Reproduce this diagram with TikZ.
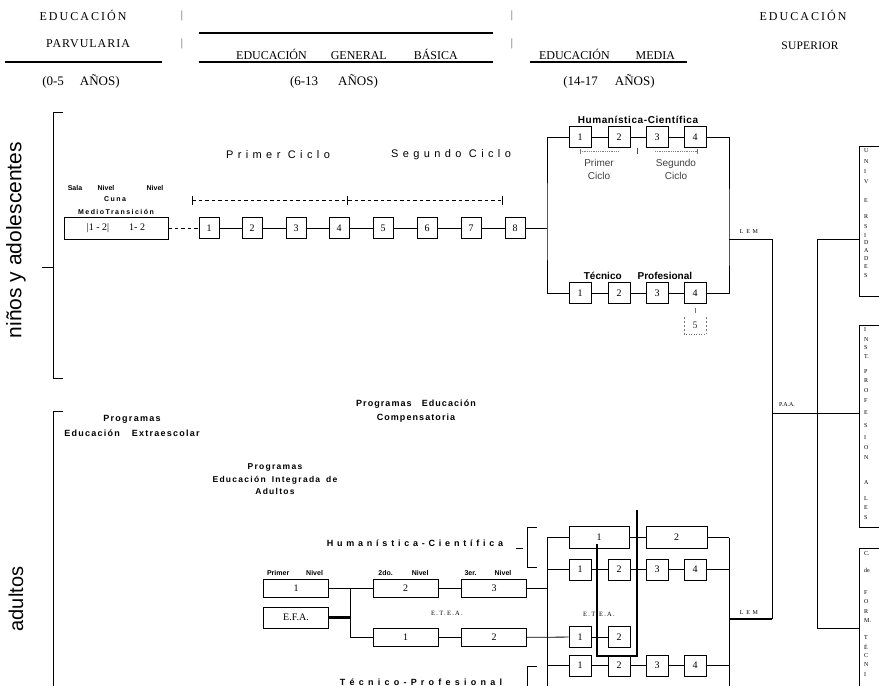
\documentclass[tikz,border=0pt]{standalone}
\usepackage{fontspec}
\setmainfont{Liberation Serif}
\setsansfont{Liberation Sans}
\newcommand\fsz[2]{\fontsize{#1}{#2}\selectfont}
\newcommand\lsp[1]{\addfontfeatures{LetterSpace=#1}}
\begin{document}
\begin{tikzpicture}[x=1pt,y=-1pt,
  ln/.style={line width=0.8pt},
  thk/.style={line width=2.3pt},
  hline/.style={line width=2pt},
  cbx/.style={draw,line width=0.8pt,minimum width=20pt,minimum height=21pt,inner sep=0pt,font={\fsz{10}{12}}},
  mbx/.style={cbx,minimum width=22pt},
  wbx/.style={cbx,minimum width=60pt,minimum height=22pt},
  abx/.style={cbx,minimum width=65pt,minimum height=18pt},
  lbl/.style={font={\sffamily\bfseries\fsz{7}{8}},inner sep=0pt},
  vl/.style={font={\fsz{6}{7}},inner sep=0pt,anchor=west},
  sml/.style={font={\fsz{6}{7}},inner sep=0pt},
  bar/.style={font={\fsz{11}{13}},text=black!70,inner sep=0pt},
  dsh/.style={line width=0.6pt,dash pattern=on 3.5pt off 3pt},
  gdt/.style={line width=0.4pt,black!50,dash pattern=on 1pt off 0.8pt},
  gln/.style={line width=0.4pt,black!55},
]
\useasboundingbox (0,0) rectangle (879,686);
% ---------------- header ----------------
\node[font={\fsz{12}{14}\lsp{17}}] (hEduA) at (83,15) {EDUCACIÓN};
\node[font={\fsz{12}{14}\lsp{8}}] (hParv) at (88,44) {PARVULARIA};
\node[font={\fsz{12}{14}\lsp{17}}] (hEduB) at (803,15) {EDUCACIÓN};
\node[font={\fsz{11.5}{14}\lsp{2}}] (hSup) at (810,46) {SUPERIOR};
\node[font={\fsz{12}{14}},inner sep=0pt] (hEGB) at (347,54) {EDUCACIÓN\hspace{24pt}GENERAL\hspace{27pt}BÁSICA};
\node[font={\fsz{12}{14}},inner sep=0pt] (hMed) at (607,54) {EDUCACIÓN\hspace{26pt}MEDIA};
\node[font={\fsz{13}{15}},inner sep=0pt] (aP) at (81,81) {(0-5\hspace{16pt}AÑOS)};
\node[font={\fsz{13}{15}},inner sep=0pt] (aB) at (334,81) {(6-13\hspace{20pt}AÑOS)};
\node[font={\fsz{13}{15}},inner sep=0pt] (aM) at (609,81) {(14-17\hspace{17pt}AÑOS)};
\node[bar] (bar1) at (182,16) {|};
\node[bar] (bar2) at (182,44) {|};
\node[bar] (bar3) at (512,16) {|};
\node[bar] (bar4) at (512,44) {|};
\draw[hline] (5,62) -- (162,62);
\draw[hline] (199,33) -- (493,33);
\draw[hline] (199,62) -- (493,62);
\draw[hline] (530,62) -- (687,62);
% ---------------- side labels and brackets ----------------
\node[rotate=90,font={\sffamily\fsz{21}{24}},inner sep=0pt] (lNin) at (16,240) {niños y adolescentes};
\node[rotate=90,font={\sffamily\fsz{20}{24}},inner sep=0pt] (lAdu) at (16,599) {adultos};
\draw[ln] (63,112) -- (53,112) -- (53,378) -- (63,378);
\draw[ln] (42,267) -- (53,267);
\draw[ln] (63,411) -- (53,411) -- (53,686);
% ---------------- parvularia + basica ----------------
\node[lbl] (sala) at (75,188) {Sala};
\node[lbl] (niv1) at (106,188) {Nivel};
\node[lbl] (niv2) at (155,188) {Nivel};
\node[lbl,font={\sffamily\bfseries\fsz{7}{8}\lsp{21}}] (cuna) at (115,199) {Cuna};
\node[lbl,font={\sffamily\bfseries\fsz{7}{8}\lsp{21}}] (medt) at (116,212) {MedioTransición};
\node[draw,line width=0.8pt,minimum width=104pt,minimum height=22pt,inner sep=0pt,font={\fsz{10}{12}}] (pv) at (116,228) {|1 - 2|\hspace{20pt}1- 2};
\foreach \i/\x in {1/209,2/252,3/296,4/339,5/383,6/427,7/471,8/515}
  \node[cbx] (b\i) at (\x,228) {\i};
\draw[dsh] (pv) -- (b1);
\foreach \i/\j in {1/2,2/3,3/4,4/5,5/6,6/7,7/8}
  \draw[ln] (b\i) -- (b\j);
\node[font={\sffamily\fsz{11}{13}\lsp{40}},inner sep=0pt] (pc) at (278,155) {Primer Ciclo};
\node[font={\sffamily\fsz{11}{13}\lsp{40}},inner sep=0pt] (sc) at (451,155) {Segundo Ciclo};
\draw[dsh] (192,200) -- (502,200);
\draw[line width=0.6pt] (192,195.5) -- (192,205);
\draw[line width=0.6pt] (347,195.5) -- (347,205);
\draw[line width=0.6pt] (502,195.5) -- (502,205);
% ---------------- media (jovenes) ----------------
\coordinate (jt) at (547,228);
\coordinate (jr) at (729,239);
\coordinate (lemR) at (772,239);
\draw[ln] (b8) -- (jt);
\foreach \i/\x in {1/580,2/619,3/657,4/695}{
  \node[mbx] (h\i) at (\x,137) {\i};
  \node[mbx] (t\i) at (\x,293) {\i};
}
\foreach \i/\j in {1/2,2/3,3/4}{
  \draw[ln] (h\i) -- (h\j);
  \draw[ln] (t\i) -- (t\j);
}
\draw[ln] (h1) -| (jt) |- (t1);
\draw[ln] (h4) -| (jr) |- (t4);
\draw[ln] (jr) -- (lemR);
\node[font={\sffamily\bfseries\fsz{10}{12}\lsp{6}},inner sep=0pt] (hcT) at (638,120) {Humanística-Científica};
\node[font={\sffamily\bfseries\fsz{10}{12}},inner sep=0pt] (tpT) at (638,276) {Técnico\hspace{16pt}Profesional};
\draw[gdt] (580,151) -- (618,151);
\draw[gdt] (655,151) -- (697,151);
\draw[gln] (580,148.5) -- (580,154);
\draw[line width=0.5pt,black!70] (637,148) -- (637,154);
\draw[gln] (697,148.5) -- (697,154);
\node[font={\sffamily\fsz{10}{13}},text=black!75,align=center,inner sep=0pt] (pcm) at (599,169.5) {Primer\\Ciclo};
\node[font={\sffamily\fsz{10}{13}},text=black!75,align=center,inner sep=0pt] (scm) at (676,169.5) {Segundo\\Ciclo};
\node[minimum width=22pt,minimum height=17pt,inner sep=0pt,font={\fsz{10}{12}},text=black!80] (t5) at (695,325.5) {5};
\draw[gln,dash pattern=on 2pt off 2pt] (t5.north west) -- (t5.south west);
\draw[gln,dash pattern=on 2pt off 2pt] (t5.north east) -- (t5.south east);
\draw[gln,dash pattern=on 1pt off 1.5pt] (t5.south west) -- (t5.south east);
\draw[gln,shorten <=4.5pt,shorten >=4pt] (t4) -- (t5);
\node[font={\fsz{6}{7}\lsp{45}},inner sep=0pt] (lem1) at (749,232) {LEM};
% ---------------- superior ----------------
\coordinate (lemB) at (772,619);
\coordinate (paa) at (772,413);
\coordinate (v2t) at (817,239);
\coordinate (v2b) at (817,628);
\coordinate (uniL) at (859,239);
\coordinate (insL) at (859,413);
\coordinate (cftL) at (859,628);
\draw[ln] (lemR) -- (lemB);
\draw[ln] (v2t) -- (v2b);
\draw[ln] (v2t) -- (uniL);
\draw[ln] (paa) -- (insL);
\draw[ln] (v2b) -- (cftL);
\node[sml] (paaT) at (787,405) {P.A.A.};
\draw[ln] (879,146) -- (859,146) -- (859,296) -- (879,296);
\draw[ln] (879,325) -- (859,325) -- (859,527) -- (879,527);
\draw[ln] (879,548) -- (859,548) -- (859,686);
\foreach \l/\y [count=\i] in {U/151,N/162,I/172,V/182,E/201,R/217,S/227,I/236,D/243,A/251,D/259,E/267,S/276}
  \node[vl] (u\i) at (864,\y) {\l};
\foreach \l/\y [count=\i] in {I/330,N/340,S/348,T./357,P/372,R/381,O/391,F/401,E/413,S/426,I/438,O/448,N/458,A/483,L/499,E/508,S/518}
  \node[vl] (p\i) at (864,\y) {\l};
\foreach \l/\y [count=\i] in {C./554,de/570,F/593,O/602,R/612,M./621,T/638,É/647,C/656,N/665,I/675}
  \node[vl] (c\i) at (864,\y) {\l};
% ---------------- adultos ----------------
\node[font={\sffamily\bfseries\fsz{9}{15}\lsp{14}},align=center,inner sep=0pt] (pex) at (132,425.5) {Programas\\Educación\hspace{12pt}Extraescolar};
\node[font={\sffamily\bfseries\fsz{9}{14}\lsp{12}},align=center,inner sep=0pt] (pco) at (416,411) {Programas\hspace{10pt}Educación\\Compensatoria};
\node[font={\sffamily\bfseries\fsz{8.5}{12.5}\lsp{15}},align=center,inner sep=0pt] (pia) at (275,479.5) {Programas\\Educación\hspace{6pt}Integrada\hspace{6pt}de\\Adultos};
\node[font={\sffamily\bfseries\fsz{9}{11}\lsp{42}},inner sep=0pt] (hcA) at (415,543) {Humanística-Científica};
\node[font={\sffamily\bfseries\fsz{9}{11}\lsp{47}},inner sep=0pt] (tpA) at (421,682) {Técnico-Profesional};
\draw[line width=0.5pt] (516,548) -- (523,548);
\node[lbl,font={\sffamily\bfseries\fsz{7}{8}}] (nl1) at (295,573) {Primer\hspace{17pt}Nivel};
\node[lbl,font={\sffamily\bfseries\fsz{7}{8}}] (nl2) at (403.5,573) {2do.\hspace{19pt}Nivel};
\node[lbl,font={\sffamily\bfseries\fsz{7}{8}}] (nl3) at (488,573) {3er.\hspace{18pt}Nivel};
\node[abx] (a1) at (296,588) {1};
\node[abx,minimum height=21pt] (efa) at (296,617.5) {E.F.A.};
\node[abx] (a2) at (405.5,588) {2};
\node[abx] (a3) at (494,588) {3};
\node[abx] (e1) at (405.5,637.5) {1};
\node[abx] (e2) at (494,637.5) {2};
\coordinate (ja) at (350,588);
\coordinate (jb) at (350,637.5);
\coordinate (jc) at (350,617.5);
\draw[ln] (a1) -- (a2);
\draw[ln] (a2) -- (a3);
\draw[ln] (ja) -- (jb) -- (e1);
\draw[ln] (e1) -- (e2);
\draw[thk] (efa) -- (jc);
\node[font={\fsz{6.5}{8}\lsp{20}},inner sep=0pt] (etea1) at (447,613) {E.T.E.A.};
% media adultos
\node[wbx] (w1) at (599,537.5) {1};
\node[wbx,minimum width=61pt] (w2) at (676.5,537.5) {2};
\foreach \i/\x in {1/580,2/619,3/657,4/695}{
  \node[mbx] (r\i) at (\x,569.5) {\i};
  \node[mbx] (s\i) at (\x,665.5) {\i};
}
\node[mbx] (q1) at (580,637) {1};
\node[mbx] (q2) at (619,637) {2};
\coordinate (aLt) at (547,537.5);
\coordinate (aLb) at (547,686);
\coordinate (aLr) at (547,569.5);
\coordinate (aLs) at (547,665.5);
\coordinate (aL3) at (547,588);
\coordinate (aRt) at (729,537.5);
\coordinate (aRb) at (729,686);
\coordinate (aRr) at (729,569.5);
\coordinate (aRs) at (729,665.5);
\coordinate (aRl) at (729,619);
\draw[ln] (aLt) -- (aLb);
\draw[ln] (aRt) -- (aRb);
\draw[ln] (aLt) -- (w1);
\draw[ln] (w1) -- (w2);
\draw[ln] (w2) -- (aRt);
\draw[ln] (aLr) -- (r1);
\draw[ln] (aLs) -- (s1);
\foreach \i/\j in {1/2,2/3,3/4}{
  \draw[ln] (r\i) -- (r\j);
  \draw[ln] (s\i) -- (s\j);
}
\draw[ln] (r4) -- (aRr);
\draw[ln] (s4) -- (aRs);
\draw[ln] (a3) -- (aL3);
\draw[ln] (e2) -- (q1);
\draw[ln] (q1) -- (q2);
\draw[ln] (537,527) -- (527,527) -- (527,567) -- (537,567);
\draw[ln] (537,666) -- (527,666) -- (527,686);
\node[font={\fsz{6.5}{8}\lsp{20}},inner sep=0pt] (etea2) at (599,614) {E.T.E.A.};
\coordinate (k1) at (637,510);
\coordinate (k2) at (637,656);
\coordinate (k3) at (597,656);
\coordinate (k4) at (597,544);
\draw[thk] (k1) -- (k2) -- (k3) -- (k4);
\draw[thk] (aRl) -- (lemB);
\node[font={\fsz{6}{7}\lsp{45}},inner sep=0pt] (lem2) at (749,613) {LEM};
\end{tikzpicture}
\end{document}
